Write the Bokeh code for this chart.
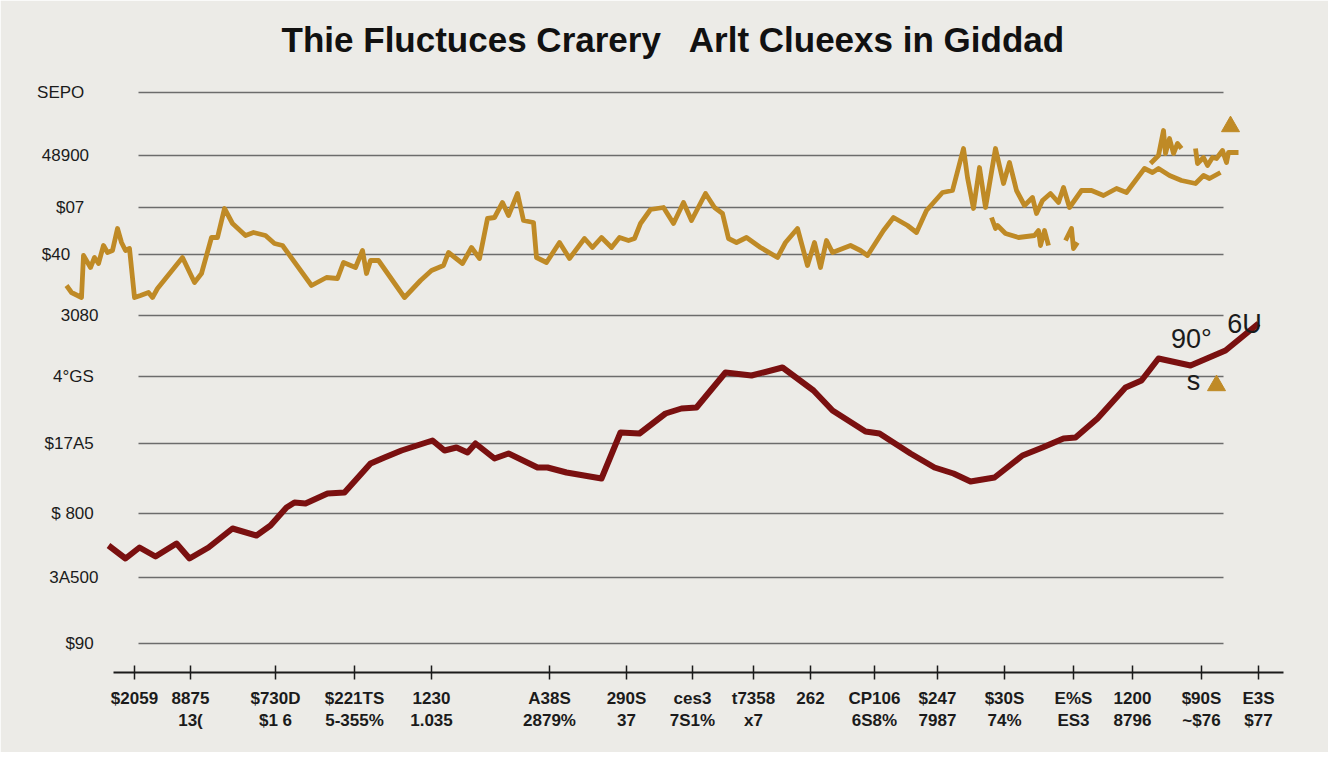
from bokeh.plotting import figure
from bokeh.models import Range1d, FixedTicker
from bokeh.embed import file_html
from bokeh.resources import INLINE
from bokeh.core.properties import value

# ---------------- data ----------------
title_text = "Thie Fluctuces Crarery \u00a0 Arlt Clueexs in Giddad"

NB = "\u00a0"
y_ticks = [580, 517, 465, 418, 357, 296, 229, 159, 95, 29]
y_labels = ["SEPO" + NB * 3, "48900" + NB * 2, "$07" + NB * 3, "$40" + NB * 6,
            "3080", "4°GS" + NB, "$17A5" + NB, "$ 800" + NB, "3A500", "$90" + NB]

x_ticks = [76, 132, 217, 296, 373, 491, 568, 634, 695, 752, 816, 879, 946, 1015, 1074, 1143, 1200]
x_labels = ["$2059", "8875\n13(", "$730D\n$1 6", "$221TS\n5-355%", "1230\n1.035",
            "A38S\n2879%", "290S\n37", "ces3\n7S1%", "t7358\nx7", "262", "CP106\n6S8%",
            "$247\n7987", "$30S\n74%", "E%S\nES3", "1200\n8796", "$90S\n~$76", "E3S\n$77"]

gold_main_x = [8, 13, 23, 25, 32, 36, 40, 45, 49, 54, 59, 63, 67, 71, 76, 82, 90, 94, 99, 124,
               136, 143, 153, 159, 166, 174, 187, 195, 207, 216, 224, 253, 268, 279, 285, 297,
               304, 308, 312, 320, 346, 362, 373, 385, 390, 404, 413, 421, 429, 436, 444, 450,
               459, 465, 475, 478, 488, 501, 511, 526, 534, 543, 553, 561, 570, 576, 582, 592,
               605, 615, 625, 633, 647, 656, 664, 670, 678, 688, 702, 719, 727, 739, 749, 756,
               762, 768, 774, 792, 802, 809, 825, 835, 849, 858, 868, 884, 894, 905, 909, 915,
               921, 927, 937, 945, 951, 958, 966, 974, 978, 984, 992, 1000, 1005, 1011, 1023,
               1033, 1045, 1058, 1068, 1086, 1094, 1100, 1111, 1123, 1137, 1145, 1151, 1162]
gold_main_y = [387, 380, 375, 417, 405, 415, 409, 427, 420, 422, 444, 430, 422, 424, 375, 377,
               380, 375, 384, 415, 390, 399, 435, 435, 464, 449, 437, 440, 437, 429, 427, 387,
               395, 394, 410, 405, 422, 399, 412, 412, 375, 392, 402, 407, 420, 409, 425, 414,
               454, 455, 470, 457, 479, 452, 450, 415, 410, 430, 414, 434, 425, 435, 425, 435,
               432, 434, 449, 463, 465, 449, 470, 452, 479, 465, 459, 434, 430, 435, 425, 415,
               430, 444, 407, 430, 405, 432, 420, 427, 422, 417, 442, 455, 447, 440, 462, 480,
               482, 524, 495, 464, 505, 465, 524, 489, 510, 482, 467, 475, 459, 472, 479, 470,
               485, 465, 482, 482, 477, 484, 480, 504, 500, 504, 497, 492, 489, 497, 494, 500]

gold_branch_x = [933, 937, 939, 947, 960, 976, 980, 982, 986, 990]
gold_branch_y = [455, 444, 447, 439, 435, 437, 442, 427, 442, 427]

gold_stub_x = [1007, 1013, 1015, 1019]
gold_stub_y = [432, 444, 424, 430]

gold_spike_a_x = [1092, 1100, 1105, 1107, 1111, 1115, 1119, 1123]
gold_spike_a_y = [509, 517, 542, 519, 534, 519, 529, 524]

gold_spike_b_x = [1137, 1139, 1145, 1149, 1154, 1158, 1164, 1168, 1170, 1180]
gold_spike_b_y = [524, 509, 515, 507, 515, 514, 522, 510, 520, 520]

gold_arrow_x = [1172, 1158]
gold_arrow_y = [546, 287]

red_x = [50, 67, 81, 97, 118, 131, 150, 174, 198, 212, 228, 236, 247, 269, 286, 312, 326, 343,
         374, 386, 398, 409, 417, 436, 450, 479, 489, 508, 543, 562, 581, 607, 623, 638, 667,
         693, 724, 755, 774, 785, 807, 821, 852, 876, 895, 912, 936, 964, 984, 1005, 1017,
         1039, 1067, 1083, 1100, 1132, 1167, 1200]
red_y = [127, 114, 125, 116, 129, 114, 125, 144, 137, 147, 165, 170, 169, 179, 180, 209, 215,
         222, 232, 222, 225, 220, 229, 214, 219, 205, 205, 200, 194, 240, 239, 259, 264, 265,
         300, 297, 305, 282, 262, 255, 241, 239, 219, 205, 199, 191, 195, 217, 225, 234, 235,
         254, 285, 292, 314, 307, 322, 349]

ann_x = [1133, 1186, 1135]
ann_y = [334, 349, 292]
ann_text = ["90°", "6U", "s"]

# ---------------- styles ----------------
BG = "#ecebe7"
GOLD = "#bf8a26"
RED = "#7a1010"
INK = "#1b1b1b"
FONT = "Liberation Sans"

p = figure(width=1328, height=752,
           x_range=Range1d(0, 1230), y_range=Range1d(0, 597),
           output_backend="svg", toolbar_location=None,
           min_border_left=58, min_border_right=40,
           min_border_top=75, min_border_bottom=80,
           background_fill_color=BG, border_fill_color=BG,
           outline_line_color=BG, outline_line_width=2)

p.title.text = title_text
p.title.align = "center"
p.title.text_font = FONT
p.title.text_font_size = "35px"
p.title.text_font_style = "bold"
p.title.text_color = "#111111"
p.title.standoff = 33

# y axis
p.yaxis.ticker = FixedTicker(ticks=y_ticks)
p.yaxis.major_label_overrides = {t: l for t, l in zip(y_ticks, y_labels)}
p.yaxis.axis_line_color = None
p.yaxis.major_tick_line_color = None
p.yaxis.minor_tick_line_color = None
p.yaxis.major_tick_in = 0
p.yaxis.major_tick_out = 0
p.yaxis.major_label_standoff = -40
p.yaxis.major_label_text_font = FONT
p.yaxis.major_label_text_font_size = "17px"
p.yaxis.major_label_text_color = INK

# x axis
p.xaxis.ticker = FixedTicker(ticks=x_ticks)
p.xaxis.major_label_overrides = {t: l for t, l in zip(x_ticks, x_labels)}
p.xaxis.bounds = (55, 1225)
p.xaxis.axis_line_color = INK
p.xaxis.axis_line_width = 1.8
p.xaxis.major_tick_line_color = INK
p.xaxis.major_tick_line_width = 1.5
p.xaxis.major_tick_in = 7
p.xaxis.major_tick_out = 7
p.xaxis.minor_tick_line_color = None
p.xaxis.major_label_standoff = 9
p.xaxis.major_label_text_font = FONT
p.xaxis.major_label_text_font_size = "17px"
p.xaxis.major_label_text_font_style = "bold"
p.xaxis.major_label_text_color = INK

# grids
p.xgrid.visible = False
p.ygrid.ticker = FixedTicker(ticks=y_ticks)
p.ygrid.grid_line_color = "#6c6c6c"
p.ygrid.grid_line_width = 1.4
p.ygrid.cross_bounds = (80, 1165)

# series
p.multi_line(xs=[gold_main_x, gold_branch_x, gold_stub_x, gold_spike_a_x, gold_spike_b_x],
             ys=[gold_main_y, gold_branch_y, gold_stub_y, gold_spike_a_y, gold_spike_b_y],
             line_color=GOLD, line_width=4.8, line_join="round")
p.line(red_x, red_y, line_color=RED, line_width=6, line_join="round")
p.scatter(gold_arrow_x, gold_arrow_y, marker="triangle", size=18,
          fill_color=GOLD, line_color=GOLD)

p.text(x=ann_x, y=ann_y, text=ann_text, text_font=value(FONT),
       text_font_size="27px", text_color=INK,
       text_align="center", text_baseline="middle")

open("out.html", "w").write(file_html(p, INLINE))
